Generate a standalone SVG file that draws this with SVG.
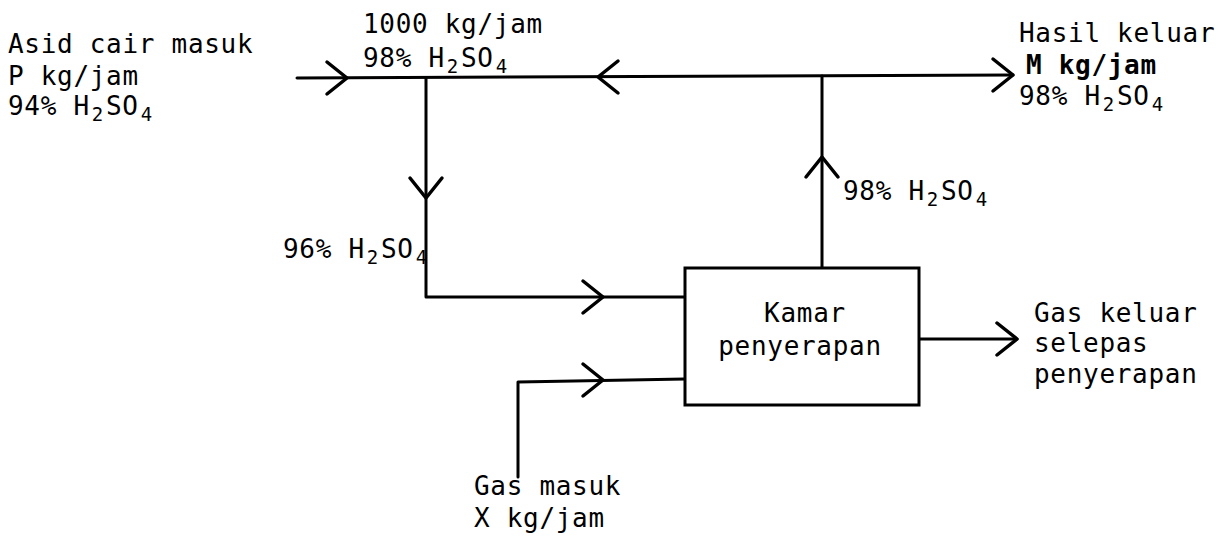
<svg xmlns="http://www.w3.org/2000/svg" xmlns:xlink="http://www.w3.org/1999/xlink" width="1225" height="541" viewBox="0 0 1225 541">
<style>
  .ln { fill: none; stroke: #000; stroke-width: 3; stroke-linecap: round; stroke-linejoin: round; }
  .ah { fill: none; stroke: #000; stroke-width: 3.5; stroke-linecap: round; stroke-linejoin: round; }
  .box { fill: #fff; stroke: #000; stroke-width: 3; }
  text { font-family: "DejaVu Sans Mono", "Liberation Mono", monospace; font-size: 26px; letter-spacing: 0.7px; fill: #000; }
  .sub { font-size: 19px; }
  .mid { text-anchor: middle; }
</style>
<defs>
  <path id="chev" d="M-20,-16 L0,0 L-20,16"/>
</defs>
<rect width="1225" height="541" fill="#fff"/>

<g id="connectors">
  <path class="ln" d="M297,78 L1013,75"/>
  <path class="ln" d="M426,78 L426,297 L685,297"/>
  <path class="ln" d="M822,268 L822,76"/>
  <path class="ln" d="M518,477 L518,382 L685,379"/>
  <path class="ln" d="M919,339 L1017,339"/>
  <use xlink:href="#chev" class="ah" transform="translate(347,78)"/>
  <use xlink:href="#chev" class="ah" transform="translate(598,77) rotate(180)"/>
  <use xlink:href="#chev" class="ah" transform="translate(1013,75)"/>
  <use xlink:href="#chev" class="ah" transform="translate(426,198) rotate(90)"/>
  <use xlink:href="#chev" class="ah" transform="translate(603,297)"/>
  <use xlink:href="#chev" class="ah" transform="translate(822,157) rotate(-90)"/>
  <use xlink:href="#chev" class="ah" transform="translate(603,380)"/>
  <use xlink:href="#chev" class="ah" transform="translate(1017,339)"/>
</g>

<g id="node-kamar">
  <rect class="box" x="685" y="268" width="234" height="137"/>
  <text class="mid" x="805" y="322">Kamar</text>
  <text class="mid" x="800" y="355">penyerapan</text>
</g>

<g id="label-asid-masuk">
  <text x="8" y="53">Asid cair masuk</text>
  <text x="8" y="85">P kg/jam</text>
  <text x="8" y="115">94% H<tspan class="sub" dx="2" dy="6">2</tspan><tspan dx="2" dy="-6">SO</tspan><tspan class="sub" dx="2" dy="6">4</tspan></text>
</g>

<g id="label-recycle">
  <text x="363" y="33">1000 kg/jam</text>
  <text x="363" y="67">98%  H<tspan class="sub" dx="2" dy="6">2</tspan><tspan dx="2" dy="-6">SO</tspan><tspan class="sub" dx="2" dy="6">4</tspan></text>
</g>

<g id="label-hasil">
  <text x="1019" y="42">Hasil keluar</text>
  <text x="1026" y="74" font-weight="bold">M kg/jam</text>
  <text x="1019" y="105">98% H<tspan class="sub" dx="2" dy="6">2</tspan><tspan dx="2" dy="-6">SO</tspan><tspan class="sub" dx="2" dy="6">4</tspan></text>
</g>

<g id="label-up">
  <text x="843" y="200">98% H<tspan class="sub" dx="2" dy="6">2</tspan><tspan dx="2" dy="-6">SO</tspan><tspan class="sub" dx="2" dy="6">4</tspan></text>
</g>

<g id="label-96">
  <text x="283" y="258">96% H<tspan class="sub" dx="2" dy="6">2</tspan><tspan dx="2" dy="-6">SO</tspan><tspan class="sub" dx="2" dy="6">4</tspan></text>
</g>

<g id="label-gas-keluar">
  <text x="1034" y="322">Gas keluar</text>
  <text x="1034" y="352">selepas</text>
  <text x="1034" y="383">penyerapan</text>
</g>

<g id="label-gas-masuk">
  <text x="474" y="495">Gas masuk</text>
  <text x="474" y="527">X kg/jam</text>
</g>
</svg>
